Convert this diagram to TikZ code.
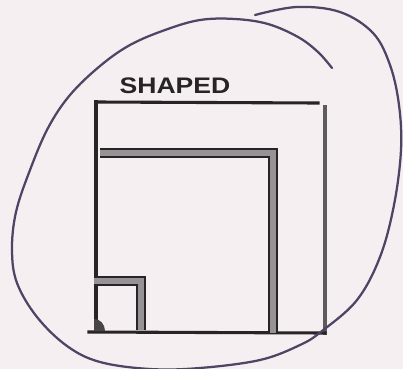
\documentclass[tikz,border=0pt]{standalone}
\usepackage{fontspec}
\setmainfont{Liberation Sans}
\usetikzlibrary{positioning}
\definecolor{paper}{RGB}{246,239,242}
\definecolor{loopink}{RGB}{78,68,100}
\definecolor{pencil}{RGB}{40,36,38}
\definecolor{shade}{RGB}{150,146,150}

\begin{document}
\begin{tikzpicture}[
  x=0.025cm, y=-0.025cm,
  pen/.style={draw=pencil, line width=2.2pt, line cap=rect},
  lightpen/.style={pen, draw=pencil!75},
  wall/.style={draw=pencil, line width=1.6pt, double=shade, double distance=4.2pt, line join=miter},
  loopline/.style={draw=loopink, line width=1.6pt, line cap=round},
  lab/.style={font=\bfseries\fontsize{16}{18}\selectfont, text=pencil, inner sep=0pt, xscale=1.18}
]
% ----- paper -----
\fill[paper] (0,0) rectangle (403,369);
\useasboundingbox (0,0) rectangle (403,369);
% ----- corner points -----
\coordinate (otl) at (96,102);
\coordinate (otr) at (318,103);
\coordinate (orT) at (325,107);
\coordinate (orB) at (325,333);
\coordinate (obl) at (89,332);
\coordinate (mtl) at (100,153);
\coordinate (mtr) at (273,153);
\coordinate (mbr) at (273,333);
\coordinate (stl) at (94,281);
\coordinate (str) at (141,281);
\coordinate (sbr) at (141,330);
% ----- outer square -----
\draw[pen] (otl) -- (otr);
\draw[pen] (otl) -- (96,330);
\draw[lightpen] (orT) -- (orB);
\draw[pen] (obl) -- (orB);
% ----- middle square -----
\draw[wall] (mtl) -- (mtr) -- (mbr);
% ----- small square -----
\draw[wall] (stl) -- (str) -- (sbr);
\fill[pencil!85] (94,331) -- (94,319) .. controls (100,319) and (105,324) .. (105,331) -- cycle;
% ----- label -----
\node[lab] (title) at (175,86) {SHAPED};
% ----- loop -----
\draw[loopline] plot[smooth, tension=0.6] coordinates {
  (332,68) (318,52) (298,37) (268,24) (235,19) (200,20) (165,30) (130,45)
  (100,66) (70,95) (48,128) (30,170) (16,212) (12,250) (17,283) (37,317)
  (67,346) (100,362) (150,369) (200,368) (260,360) (300,345) (322,331)
  (357,300) (380,257) (394,205) (401,150) (399,105) (390,65) (373,33)
  (340,12) (297,7) (255,15)};
\end{tikzpicture}
\end{document}
